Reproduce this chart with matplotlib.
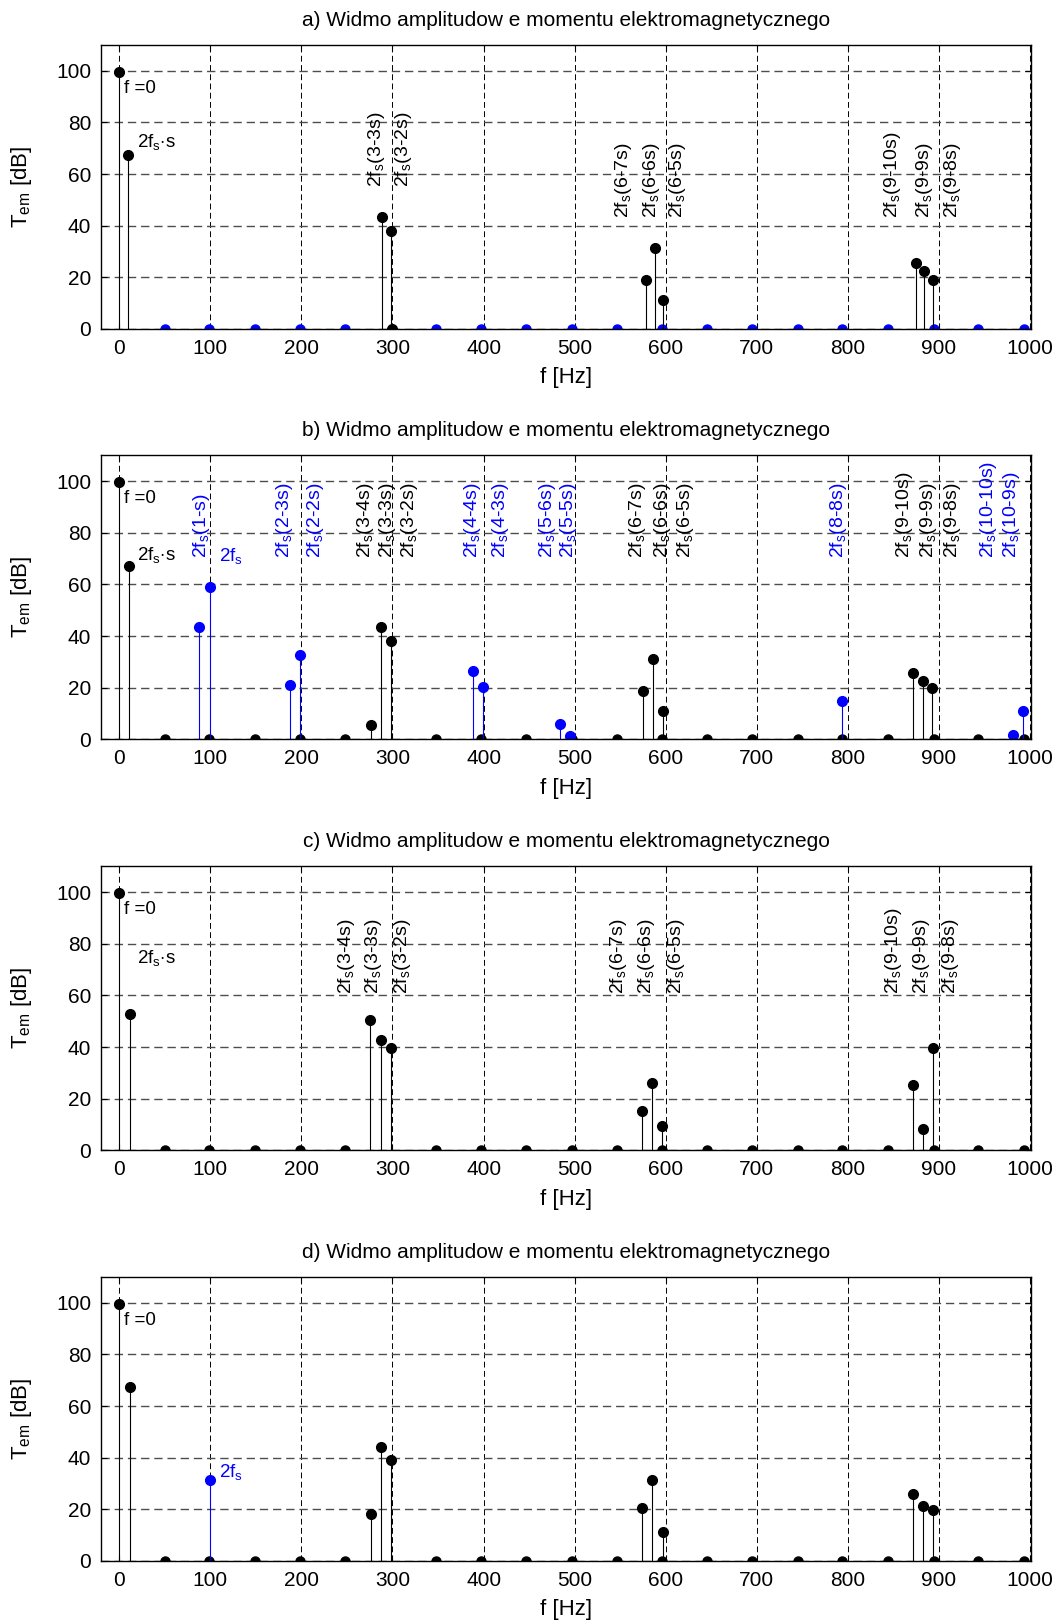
import matplotlib
matplotlib.use("Agg")
import matplotlib.pyplot as plt

plt.rcParams['font.family'] = ['Liberation Sans', 'DejaVu Sans']
plt.rcParams['mathtext.fontset'] = 'custom'
plt.rcParams['mathtext.rm'] = 'Liberation Sans'
plt.rcParams['mathtext.it'] = 'Liberation Sans:italic'

# ---- data ----
titles = [
    "a) Widmo amplitudow e momentu elektromagnetycznego",
    "b) Widmo amplitudow e momentu elektromagnetycznego",
    "c) Widmo amplitudow e momentu elektromagnetycznego",
    "d) Widmo amplitudow e momentu elektromagnetycznego",
]

# small markers at zero amplitude
zero_f = [50, 99, 149, 199, 248, 348, 397, 447, 497, 546, 596, 645, 695,
          745, 794, 844, 894, 943, 993]

a_black_f = [0, 10, 288, 298, 300, 578, 588, 597, 875, 884, 893]
a_black_v = [99.7, 67.4, 43.5, 38, 0, 19, 31.2, 11.2, 25.7, 22.6, 19]
a_blue_f = []
a_blue_v = []
a_labels = ["(3-3s)", "(3-2s)", "(6-7s)", "(6-6s)", "(6-5s)",
            "(9-10s)", "(9-9s)", "(9-8s)"]
a_label_f = [282, 312, 554, 584, 613, 849, 884, 915]
a_label_y = [55, 55, 43, 43, 43, 43, 43, 43]
a_label_c = ["k"] * 8

b_black_f = [0, 11, 276, 287, 298, 575, 586, 597, 871, 882, 892]
b_black_v = [99.7, 67.3, 5.5, 43.4, 38, 18.7, 31.1, 11, 25.7, 22.7, 19.7]
b_blue_f = [88, 99.5, 187, 198, 388, 399, 484, 495, 794, 981, 992]
b_blue_v = [43.4, 58.9, 20.9, 32.5, 26.5, 20.3, 5.8, 1.3, 14.9, 1.8, 11]
b_labels = ["(1-s)", "(2-3s)", "(2-2s)", "(3-4s)", "(3-3s)", "(3-2s)",
            "(4-4s)", "(4-3s)", "(5-6s)", "(5-5s)", "(6-7s)", "(6-6s)",
            "(6-5s)", "(8-8s)", "(9-10s)", "(9-9s)", "(9-8s)", "(10-10s)",
            "(10-9s)"]
b_label_f = [90, 181, 215, 270, 295, 319, 388, 419, 470, 493, 569, 596,
             622, 790, 862, 888, 915, 954, 980]
b_label_y = [70.4] * 19
b_label_c = ["b", "b", "b", "k", "k", "k", "b", "b", "b", "b", "k", "k",
             "k", "b", "k", "k", "k", "b", "b"]

c_black_f = [0, 12, 275, 287, 298, 574, 585, 596, 871, 882, 893]
c_black_v = [99.7, 52.7, 50.5, 42.7, 39.7, 15.1, 25.9, 9.6, 25.1, 8.1, 39.8]
c_blue_f = []
c_blue_v = []
c_labels = ["(3-4s)", "(3-3s)", "(3-2s)", "(6-7s)", "(6-6s)", "(6-5s)",
            "(9-10s)", "(9-9s)", "(9-8s)"]
c_label_f = [250, 279, 311, 548, 579, 612, 850, 881, 913]
c_label_y = [60.4] * 9
c_label_c = ["k"] * 9

d_black_f = [0, 12, 276, 287, 298, 574, 585, 597, 871, 882, 893]
d_black_v = [99.7, 67.3, 18.2, 44.3, 39, 20.4, 31.3, 11.3, 26, 21.3, 19.7]
d_blue_f = [100]
d_blue_v = [31.2]
d_labels = []
d_label_f = []
d_label_y = []
d_label_c = []

BLUE = "#0000ff"
ANN = 13.5  # annotation font size


def stems(ax, f, v, color, ms=7):
    if not f:
        return
    m, s, b = ax.stem(f, v, basefmt=" ")
    plt.setp(s, color=color, linewidth=0.8)
    plt.setp(m, color=color, markersize=ms, marker="o")


def draw_panel(ax, title, black_f, black_v, blue_f, blue_v,
               labels, label_f, label_y, label_c, zero_color, fs_s_label):
    ax.set_xlim(-20, 1001)
    ax.set_ylim(0, 110)
    ax.set_xticks(range(0, 1001, 100))
    ax.set_yticks(range(0, 101, 20))
    ax.xaxis.grid(True, linestyle=(0, (6, 3.5)), color="k", linewidth=0.7)
    ax.yaxis.grid(True, linestyle=(0, (6, 3.5)), color="#4d4d4d", linewidth=1.0)
    ax.set_axisbelow(True)

    # zero-amplitude markers
    ax.plot(zero_f, [0] * len(zero_f), "o", color=zero_color, markersize=6.5)
    stems(ax, black_f, black_v, "k")
    stems(ax, blue_f, blue_v, BLUE)

    ax.text(5, 91.5, "f =0", fontsize=ANN, ha="left", va="baseline")
    if fs_s_label is not None:
        ax.text(20, fs_s_label, r"2f$_\mathrm{s}$$\cdot$s", fontsize=ANN,
                ha="left", va="baseline")
    for txt, x, y, c in zip(labels, label_f, label_y, label_c):
        ax.text(x, y, r"2f$_\mathrm{s}$" + txt, rotation=90, fontsize=14,
                ha="center", va="bottom", color=BLUE if c == "b" else "k")

    ax.set_title(title, fontsize=15, pad=14)
    ax.set_xlabel("f [Hz]", fontsize=16, labelpad=7)
    ax.set_ylabel(r"T$_\mathrm{em}$ [dB]", fontsize=16, labelpad=16)
    ax.tick_params(direction="in", length=4, top=True, right=True,
                   labelsize=15, pad=7)
    for sp in ax.spines.values():
        sp.set_linewidth(1.0)


fig = plt.figure(figsize=(10.62, 16.23), dpi=100)
left, width, height = 101 / 1062, 930 / 1062, 284 / 1623
bottoms = [1 - 329 / 1623, 1 - 739.3 / 1623, 1 - 1150.3 / 1623, 1 - 1561 / 1623]
axes = [fig.add_axes([left, b, width, height]) for b in bottoms]

draw_panel(axes[0], titles[0], a_black_f, a_black_v, a_blue_f, a_blue_v,
           a_labels, a_label_f, a_label_y, a_label_c, BLUE, 70.3)
draw_panel(axes[1], titles[1], b_black_f, b_black_v, b_blue_f, b_blue_v,
           b_labels, b_label_f, b_label_y, b_label_c, "k", 69.5)
axes[1].text(110, 69, r"2f$_\mathrm{s}$", fontsize=ANN, color=BLUE,
             ha="left", va="baseline")
draw_panel(axes[2], titles[2], c_black_f, c_black_v, c_blue_f, c_blue_v,
           c_labels, c_label_f, c_label_y, c_label_c, "k", 72.5)
draw_panel(axes[3], titles[3], d_black_f, d_black_v, d_blue_f, d_blue_v,
           d_labels, d_label_f, d_label_y, d_label_c, "k", None)
axes[3].text(110, 32.4, r"2f$_\mathrm{s}$", fontsize=ANN, color=BLUE,
             ha="left", va="baseline")

fig.savefig("out.png", dpi=100)
